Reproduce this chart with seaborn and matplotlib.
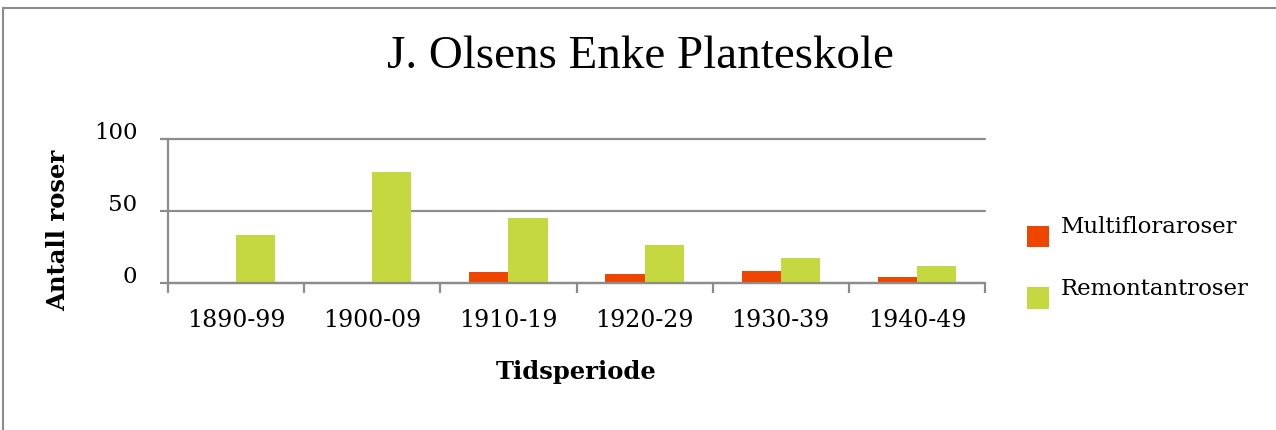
import pandas as pd
import matplotlib.pyplot as plt
import seaborn as sns
from matplotlib.patches import Patch, Rectangle
from matplotlib.legend_handler import HandlerPatch

# values
periods = ["1890-99", "1900-09", "1910-19", "1920-29", "1930-39", "1940-49"]
multiflora = [0, 0.5, 7.5, 6.5, 8.5, 4.2]
remontant = [33, 77, 45, 26.5, 17.5, 11.5]
series_names = ["Multifloraroser", "Remontantroser"]
colors = ["#EE4500", "#C5D840"]

df = pd.DataFrame({
    "Tidsperiode": periods * 2,
    "Antall": multiflora + remontant,
    "Serie": [series_names[0]] * len(periods) + [series_names[1]] * len(periods),
})

sns.set_style("white")
plt.rcParams["font.family"] = ["DejaVu Serif"]
plt.rcParams["text.color"] = "black"
plt.rcParams["xtick.labelcolor"] = "black"
plt.rcParams["ytick.labelcolor"] = "black"
plt.rcParams["axes.labelcolor"] = "black"

fig = plt.figure(figsize=(12.76, 4.30), dpi=100)
ax = fig.add_axes([168 / 1276, 1 - 283 / 430, (985 - 168) / 1276, (283 - 139) / 430])

sns.barplot(data=df, x="Tidsperiode", y="Antall", hue="Serie", palette=colors,
            width=0.575, ax=ax, legend=False, saturation=1, linewidth=0)

grey = "#8c8c8c"
ax.set_ylim(0, 100)
ax.set_xlim(-0.5, len(periods) - 0.5)
ax.set_yticks([0, 50, 100])
ax.yaxis.grid(True, color=grey, linewidth=1.6)
for gl in ax.get_ygridlines():
    gl.set_clip_on(False)
ax.set_axisbelow(True)
for side in ["top", "right"]:
    ax.spines[side].set_visible(False)
for side in ["left", "bottom"]:
    ax.spines[side].set_color(grey)
    ax.spines[side].set_linewidth(1.6)

ax.set_xticks([i - 0.5 for i in range(len(periods) + 1)], minor=True)
ax.tick_params(axis="x", which="major", length=0, pad=19, labelsize=17)
ax.tick_params(axis="x", which="minor", length=7, width=1.6, color=grey, direction="out", bottom=True)
ax.tick_params(axis="y", length=6, width=1.6, color=grey, direction="out", left=True,
               pad=16, labelsize=16.5)
for lab in ax.get_yticklabels():
    lab.set_va("baseline")

ax.set_xlabel("Tidsperiode", fontsize=17.5, fontweight="bold", va="center")
ax.xaxis.set_label_coords(0.5, -0.618)
ax.set_ylabel("Antall roser", fontsize=17.5, fontweight="bold", va="center")
ax.yaxis.set_label_coords(-0.1346, 0.368)

fig.suptitle("J. Olsens Enke Planteskole", x=0.5016, y=1 - 57 / 430, va="center",
             fontsize=33.8, family="Liberation Serif")


# legend squares sit a bit lower than the text, as in the original
def low_square(legend, orig_handle, xdescent, ydescent, width, height, fontsize):
    return Rectangle((-xdescent - 1, -ydescent - 8), width, height)


handles = [Patch(facecolor=c, edgecolor="none") for c in colors]
fig.legend(handles, series_names, loc="upper left", bbox_to_anchor=(1022 / 1276, 1 - 208 / 430),
           frameon=False, fontsize=16.5, handlelength=0.95, handleheight=1.05,
           labelspacing=1.65, handletextpad=0.45, borderaxespad=0, borderpad=0.3,
           handler_map={Patch: HandlerPatch(patch_func=low_square)})

# outer frame of the original chart area
fig.add_artist(Rectangle((3 / 1276, -0.1), 1.2, 1 - 8 / 430 + 0.1, transform=fig.transFigure,
                         fill=False, edgecolor="#8c8c8c", linewidth=1.5))

fig.savefig("out.png", dpi=100)
